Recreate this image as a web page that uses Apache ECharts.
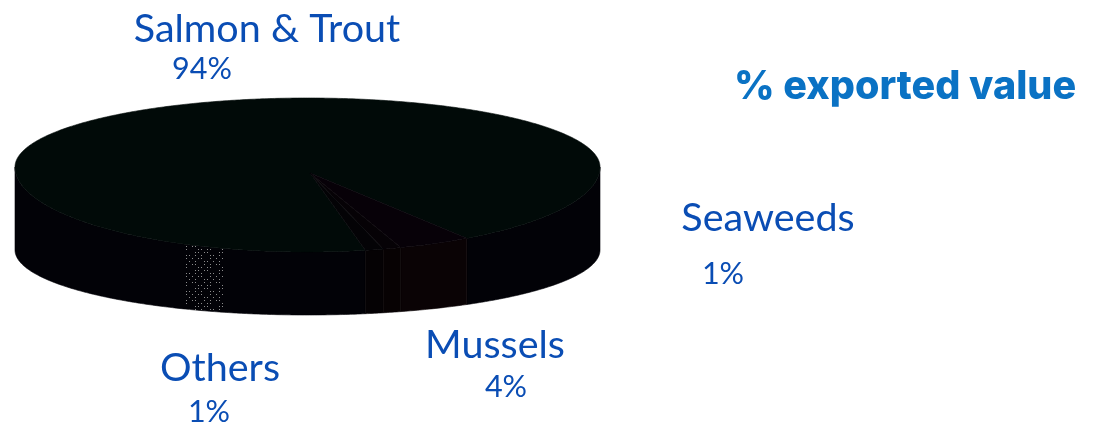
<!DOCTYPE html>
<html>
<head>
<meta charset="utf-8">
<style>html,body{margin:0;padding:0;background:#fff}#chart{width:1093px;height:424px}</style>
<script src="https://cdn.jsdelivr.net/npm/echarts@6/dist/echarts.min.js"></script>
</head>
<body>
<div id="chart"></div>
<script>
// Share of exported value by product group
const categories = ['Salmon & Trout', 'Mussels', 'Seaweeds', 'Others'];
const shares = [94, 4, 1, 1];
const chartTitle = '% exported value';

// Colours of each slice: top surface and outer wall
const topColors = ['#010a08', '#070108', '#060206', '#040306'];
const wallColors = ['#020207', '#0a0305', '#070203', '#050204'];

// Label centres: [name x, name y, value x, value y]
const labelAnchors = [
  [267, 29, 202, 69],
  [495, 345, 506, 387],
  [768, 218, 723, 274],
  [220, 368, 209, 412]
];

// Disc geometry in pixels; the nearer half of the disc is drawn taller
const disc = { cx: 307.5, rx: 292.5, topCy: 167, backRy: 69, frontRy: 85, bottomCy: 250, bottomRy: 65, apexX: 310, apexY: 173 };
const startDeg = 78.6;

const rad = d => d * Math.PI / 180;

function topPoint(deg) {
  const s = Math.sin(rad(deg));
  return [disc.cx + disc.rx * Math.cos(rad(deg)), disc.topCy + (s > 0 ? disc.frontRy : disc.backRy) * s];
}
function bottomPoint(deg) {
  return [disc.cx + disc.rx * Math.cos(rad(deg)), disc.bottomCy + disc.bottomRy * Math.sin(rad(deg))];
}
function arc(fn, a, b) {
  const pts = [];
  const n = Math.max(2, Math.ceil(Math.abs(b - a) * 2));
  for (let i = 0; i <= n; i++) pts.push(fn(a + (b - a) * i / n));
  return pts;
}
// Front-facing wall between two angles, limited to the visible 0-180 range
function wallPolygon(a, b) {
  const from = Math.max(a, 0), to = Math.min(b, 180);
  if (to <= from) return null;
  return arc(topPoint, from, to).concat(arc(bottomPoint, to, from));
}

// Slice angle ranges, clockwise on screen
const total = shares.reduce((s, v) => s + v, 0);
let cursor = startDeg;
const sliceRanges = shares.map(v => {
  const range = [cursor, cursor + v / total * 360];
  cursor = range[1];
  return range;
});

// Sparse dots for the speckled highlight on the wall
function speckle() {
  const c = document.createElement('canvas');
  c.width = 24; c.height = 18;
  const g = c.getContext('2d');
  g.fillStyle = '#8c8c8c';
  for (let y = 0; y < 18; y += 3) {
    for (let x = 0; x < 24; x += 3) {
      if ((x * 5 + y * 7) % 4 !== 1 && (x + y) % 9 !== 0) g.fillRect(x, y, 1, 1);
    }
  }
  return c;
}
const sheenRange = [106.4, 114.8];

function renderWall(params) {
  const [a, b] = sliceRanges[params.dataIndex];
  const children = [];
  [[a, b], [a - 360, b - 360]].forEach(([p, q]) => {
    const pts = wallPolygon(p, q);
    if (pts) children.push({ type: 'polygon', shape: { points: pts }, style: { fill: wallColors[params.dataIndex], stroke: wallColors[params.dataIndex], lineWidth: 0.6 } });
  });
  if (params.dataIndex === 0) {
    children.push({ type: 'polygon', shape: { points: wallPolygon(sheenRange[0], sheenRange[1]) }, style: { fill: { image: speckle(), repeat: 'repeat' } } });
  }
  return { type: 'group', children };
}

function renderTop(params) {
  const [a, b] = sliceRanges[params.dataIndex];
  const pts = [[disc.apexX, disc.apexY]].concat(arc(topPoint, a, b));
  const color = topColors[params.dataIndex];
  return { type: 'polygon', shape: { points: pts }, style: { fill: color, stroke: color, lineWidth: 0.6 } };
}

function renderLabel(params) {
  const [nx, ny, vx, vy] = labelAnchors[params.dataIndex];
  const base = { fontFamily: 'Lato', fill: '#0a4db4', align: 'center', verticalAlign: 'middle' };
  return {
    type: 'group',
    children: [
      { type: 'text', style: Object.assign({ text: categories[params.dataIndex], x: nx, y: ny, fontSize: 39.5 }, base) },
      { type: 'text', style: Object.assign({ text: shares[params.dataIndex] + '%', x: vx, y: vy, fontSize: 30.5 }, base) }
    ]
  };
}

const chart = echarts.init(document.getElementById('chart'), null, { renderer: 'canvas' });
chart.setOption({
  animation: false,
  backgroundColor: '#fff',
  title: {
    text: chartTitle,
    left: 734, top: 67, padding: 0,
    textStyle: { fontFamily: 'Inter', fontWeight: 800, fontSize: 39.5, color: '#0a72c4' }
  },
  series: [
    { type: 'custom', coordinateSystem: 'none', silent: true, renderItem: renderWall, data: shares, z: 1 },
    { type: 'custom', coordinateSystem: 'none', silent: true, renderItem: renderTop, data: shares, z: 2 },
    { type: 'custom', coordinateSystem: 'none', silent: true, renderItem: renderLabel, data: shares, z: 3 }
  ]
});
</script>
</body>
</html>
